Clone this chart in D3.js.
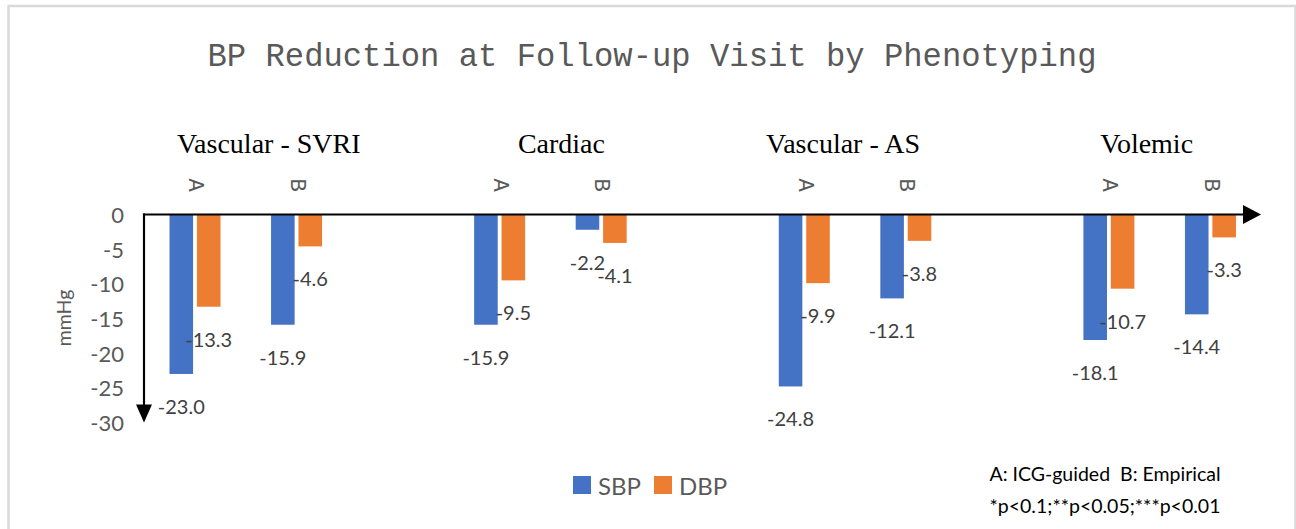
<!DOCTYPE html>
<html>
<head>
<meta charset="utf-8">
<script src="https://cdn.jsdelivr.net/npm/d3@7"></script>
<style>
  html, body { margin: 0; padding: 0; background: #fff; }
  svg { display: block; }
</style>
</head>
<body>
<svg id="chart" width="1296" height="529"></svg>
<script>
// ---------------- DATA ----------------
const title = "BP Reduction at Follow-up Visit by Phenotyping";
const groups = ["Vascular - SVRI", "Cardiac", "Vascular - AS", "Volemic"];
const arms = ["A", "B"];
const seriesNames = ["SBP", "DBP"];
// values per group, per arm [A, B]
const sbp = [[-23.0, -15.9], [-15.9, -2.2], [-24.8, -12.1], [-18.1, -14.4]];
const dbp = [[-13.3, -4.6], [-9.5, -4.1], [-9.9, -3.8], [-10.7, -3.3]];
const yTicks = [0, -5, -10, -15, -20, -25, -30];
const yLabel = "mmHg";
const noteLines = ["A: ICG-guided  B: Empirical", "*p<0.1;**p<0.05;***p<0.01"];

// ---------------- LAYOUT ----------------
const colors = { SBP: "#4472C4", DBP: "#ED7D31" };
const svg = d3.select("#chart");
const W = 1296, H = 529;
const x0L = 144, x1R = 1261, yTop = 214.5, yBot = 422.5;
const groupLabelDx = [74, 62, 39, 38]; // offset of group title from arm-A slot center
const hyphen = s => s.replace(/\u2212/g, "-");
const fmt1 = v => hyphen(d3.format(".1f")(v));
const fmt0 = v => hyphen(d3.format("d")(v));

// build 11 slots: A, B, (blank) for each group, last blank removed
const slots = [];
groups.forEach((g, gi) => {
  arms.forEach((a, ai) => slots.push({ key: g + "|" + a, group: gi, arm: ai, label: a }));
  if (gi < groups.length - 1) slots.push({ key: "blank" + gi, blank: true });
});

const x = d3.scaleBand().domain(slots.map(s => s.key)).range([x0L, x1R]).paddingInner(0).paddingOuter(0);
const xs = d3.scaleBand().domain(seriesNames).range([25.5, 76.5]).paddingInner(0.14);
const y = d3.scaleLinear().domain([0, -30]).range([yTop, yBot]);

// frame
svg.append("rect").attr("x", 0).attr("y", 0).attr("width", W).attr("height", H).attr("fill", "#fff");
svg.append("path").attr("d", `M8.5,${H} V6 H1295.5 V${H}`)
  .attr("fill", "none").attr("stroke", "#d9d9d9").attr("stroke-width", 2.5);

// title
svg.append("text")
  .attr("x", 652).attr("y", 66)
  .attr("text-anchor", "middle")
  .attr("font-family", "'Liberation Mono', 'DejaVu Sans Mono', monospace")
  .attr("font-size", 33)
  .attr("fill", "#595959")
  .attr("textLength", 889).attr("lengthAdjust", "spacingAndGlyphs")
  .text(title);

// bars data
const barData = [];
slots.filter(s => !s.blank).forEach(s => {
  barData.push({ slot: s.key, series: "SBP", value: sbp[s.group][s.arm] });
  barData.push({ slot: s.key, series: "DBP", value: dbp[s.group][s.arm] });
});

svg.append("g").selectAll("rect").data(barData).join("rect")
  .attr("x", d => x(d.slot) + xs(d.series))
  .attr("width", xs.bandwidth())
  .attr("y", y(0))
  .attr("height", d => y(d.value) - y(0))
  .attr("fill", d => colors[d.series]);

// data labels
svg.append("g").selectAll("text").data(barData).join("text")
  .attr("x", d => x(d.slot) + xs(d.series) + xs.bandwidth() / 2)
  .attr("y", d => y(d.value) + 32)
  .attr("text-anchor", "middle")
  .attr("dominant-baseline", "central")
  .attr("font-family", "Lato, 'Open Sans', sans-serif")
  .attr("font-size", 20)
  .attr("fill", "#404040")
  .text(d => fmt1(d.value));

// y axis tick labels (no tick marks)
const yAxis = d3.axisLeft(y).tickValues(yTicks).tickSize(0).tickPadding(0).tickFormat(fmt0);
const gy = svg.append("g").attr("transform", `translate(${124},0)`).call(yAxis);
gy.select(".domain").remove();
gy.selectAll("text")
  .attr("font-family", "Lato, 'Open Sans', sans-serif")
  .attr("font-size", 22)
  .attr("fill", "#595959")
  .attr("dy", "0.36em");

// x axis (zero line) with arrowhead
svg.append("line").attr("x1", x0L - 1).attr("x2", x1R - 16).attr("y1", y(0)).attr("y2", y(0))
  .attr("stroke", "#000").attr("stroke-width", 2.2);
svg.append("path")
  .attr("d", `M${x1R - 18},${y(0) - 9.5} L${x1R},${y(0)} L${x1R - 18},${y(0) + 9.5} Z`)
  .attr("fill", "#000");
// y axis with arrowhead
svg.append("line").attr("x1", x0L).attr("x2", x0L).attr("y1", y(0) - 1).attr("y2", yBot - 16)
  .attr("stroke", "#000").attr("stroke-width", 2.2);
svg.append("path")
  .attr("d", `M${x0L - 8},${yBot - 18} L${x0L},${yBot} L${x0L + 8},${yBot - 18} Z`)
  .attr("fill", "#000");

// y axis title
svg.append("text")
  .attr("transform", `translate(63,318) rotate(-90)`)
  .attr("text-anchor", "middle")
  .attr("dominant-baseline", "central")
  .attr("font-family", "Lato, 'Open Sans', sans-serif")
  .attr("font-size", 19.5)
  .attr("fill", "#595959")
  .text(yLabel);

// arm labels (rotated)
svg.append("g").selectAll("text").data(slots.filter(s => !s.blank)).join("text")
  .attr("transform", d => `translate(${x(d.key) + x.bandwidth() / 2},185) rotate(90)`)
  .attr("text-anchor", "middle")
  .attr("dominant-baseline", "central")
  .attr("font-family", "'Liberation Mono', 'DejaVu Sans Mono', monospace")
  .attr("font-size", 22)
  .attr("fill", "#595959")
  .text(d => d.label);

// group labels
svg.append("g").selectAll("text").data(groups).join("text")
  .attr("x", (g, i) => x(g + "|A") + x.bandwidth() / 2 + groupLabelDx[i])
  .attr("y", 153)
  .attr("text-anchor", "middle")
  .attr("font-family", "'Liberation Serif', 'Times New Roman', serif")
  .attr("font-size", 28)
  .attr("fill", "#000")
  .text(g => g);

// legend
const legend = svg.append("g").attr("transform", "translate(573,476)");
const legX = [0, 81];
seriesNames.forEach((s, i) => {
  const gl = legend.append("g").attr("transform", `translate(${legX[i]},0)`);
  gl.append("rect").attr("width", 18).attr("height", 18).attr("fill", colors[s]);
  gl.append("text").attr("x", 25).attr("y", 9)
    .attr("dominant-baseline", "central")
    .attr("font-family", "Lato, 'Open Sans', sans-serif")
    .attr("font-size", 24)
    .attr("fill", "#595959")
    .text(s);
});

// notes
svg.append("g").selectAll("text").data(noteLines).join("text")
  .attr("x", 1105)
  .attr("y", (d, i) => 473 + i * 32)
  .attr("text-anchor", "middle")
  .attr("dominant-baseline", "central")
  .attr("xml:space", "preserve")
  .style("white-space", "pre")
  .attr("font-family", "Lato, 'Open Sans', sans-serif")
  .attr("font-size", 19.5)
  .attr("fill", "#000")
  .text(d => d);
</script>
</body>
</html>
